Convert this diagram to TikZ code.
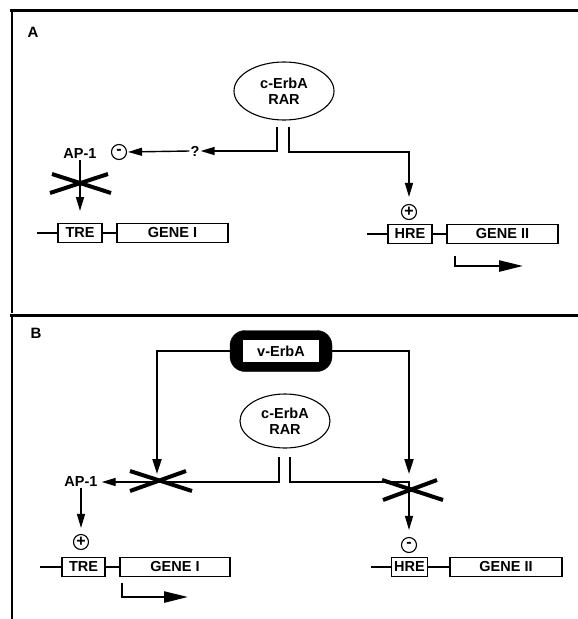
\documentclass[tikz,border=0pt]{standalone}
\usepackage{fontspec}
\setmainfont{Liberation Sans}
\usetikzlibrary{arrows.meta,shapes.geometric}
\begin{document}
\begin{tikzpicture}[x=1pt,y=-1pt,
  lbl/.style={font=\fontsize{14.5}{16}\selectfont\bfseries, inner sep=1pt},
  genebox/.style={draw, line width=1.1pt, minimum height=19pt, inner sep=0pt, lbl},
  sign/.style={draw, circle, line width=1.1pt, minimum size=15pt, inner sep=0pt, font=\fontsize{16}{16}\selectfont\bfseries},
  recep/.style={draw, ellipse, line width=1.1pt, inner sep=0pt, align=center, font=\fontsize{14.5}{15.5}\selectfont\bfseries},
  conn/.style={line width=1.4pt},
  arr/.style={conn, -{Triangle[length=14pt,width=8pt]}},
  thickarr/.style={line width=2pt, -{Triangle[length=15pt,width=9pt]}},
  txarr/.style={line width=2.5pt, -{Triangle[length=24pt,width=11pt]}},
  crossbar/.style={line width=4pt},
  frame/.style={line width=3pt},
  sideline/.style={line width=2.5pt}]
\useasboundingbox (0,0) rectangle (578,619);
% frame
\draw[frame] (10,10) -- (578,10);
\draw[sideline] (12,10) -- (12,313);
\draw[frame] (10,315) -- (578,315);
\draw[sideline] (12,317) -- (12,619);

% ================= Panel A
\node[lbl, font=\fontsize{15}{15}\selectfont\bfseries] (labA) at (33,32) {A};
\node[recep, minimum width=100pt, minimum height=58pt] (ellA) at (284,91) {c-ErbA\\RAR};
\coordinate (a1) at (277,127);
\coordinate (a2) at (289,127);
\node[lbl] (q) at (195,151) {?};
\node[sign] (minA) at (119,152) {-};
\node[lbl] (apA) at (80,154) {AP-1};
\coordinate (apAend) at (80,211);
\coordinate (hreAin) at (409,152);
\node[sign] (plusA) at (409,212) {+};
\draw[arr] (a1) |- (q.east);
\draw[arr, shorten >=1pt] (q.west) -- (minA.east);
\draw[arr] (apA.south) -- (apAend);
\draw[crossbar] (52,174) -- (111,193);
\draw[crossbar] (50,193) -- (108,174);
\draw[arr, shorten >=7pt] (a2) |- (hreAin) -- (plusA.north);

\coordinate (lA1) at (37,233);
\node[genebox, minimum width=44pt] (treA) at (80,233) {TRE};
\node[genebox, minimum width=111pt] (g1A) at (172.5,233) {GENE I};
\draw[conn] (lA1) -- (treA.west);
\draw[conn] (treA.east) -- (g1A.west);

\coordinate (lA2) at (367,234);
\node[genebox, minimum width=44pt] (hreA) at (410,234) {HRE};
\node[genebox, minimum width=111pt] (g2A) at (502.5,234) {GENE II};
\draw[conn] (lA2) -- (hreA.west);
\draw[conn] (hreA.east) -- (g2A.west);
\coordinate (txA1) at (455,256);
\coordinate (txA2) at (523,266);
\draw[txarr] (txA1) |- (txA2);

% ================= Panel B
\node[lbl, font=\fontsize{15}{15}\selectfont\bfseries] (labB) at (36,333) {B};
\node[draw=black, fill=black, rounded corners=15pt, minimum width=102pt, minimum height=41pt] (vE) at (281,351) {};
\node[fill=white, minimum width=76pt, minimum height=22pt, inner sep=0pt, lbl] (vEt) at (vE.center) {v-ErbA};
\node[recep, minimum width=90pt, minimum height=54pt] (ellB) at (285,421) {c-ErbA\\RAR};
\coordinate (vL) at (157,474);
\coordinate (vR) at (409,474);
\draw[thickarr] (vE.west) -| (vL);
\draw[thickarr] (vE.east) -| (vR);

\coordinate (b1) at (279,457);
\coordinate (b2) at (290,457);
\node[lbl] (apB) at (81,482) {AP-1};
\coordinate (hreBin) at (409,482);
\node[sign] (minB) at (409,545) {-};
\node[sign] (plusB) at (81,542) {+};
\draw[arr, shorten >=3pt] (b1) |- (apB.east);
\draw[arr, shorten >=7pt] (b2) |- (hreBin) -- (minB.north);
\draw[arr, shorten >=6pt] (apB.south) -- (plusB.north);
\draw[crossbar] (130,471) -- (192,491);
\draw[crossbar] (130,491) -- (186,471);
\draw[crossbar] (382,480) -- (443,500);
\draw[crossbar] (383,500) -- (437,480);

\coordinate (lB1) at (40,567);
\node[genebox, minimum width=43pt] (treB) at (83.5,567) {TRE};
\node[genebox, minimum width=110pt] (g1B) at (175,567) {GENE I};
\draw[conn] (lB1) -- (treB.west);
\draw[conn] (treB.east) -- (g1B.west);
\coordinate (txB1) at (122,583);
\coordinate (txB2) at (188,597);
\draw[txarr] (txB1) |- (txB2);

\coordinate (lB2) at (371,567);
\node[genebox, minimum width=36pt] (hreB) at (409.5,567) {HRE};
\node[genebox, minimum width=112pt] (g2B) at (506,567) {GENE II};
\draw[conn] (lB2) -- (hreB.west);
\draw[conn] (hreB.east) -- (g2B.west);
\end{tikzpicture}
\end{document}
